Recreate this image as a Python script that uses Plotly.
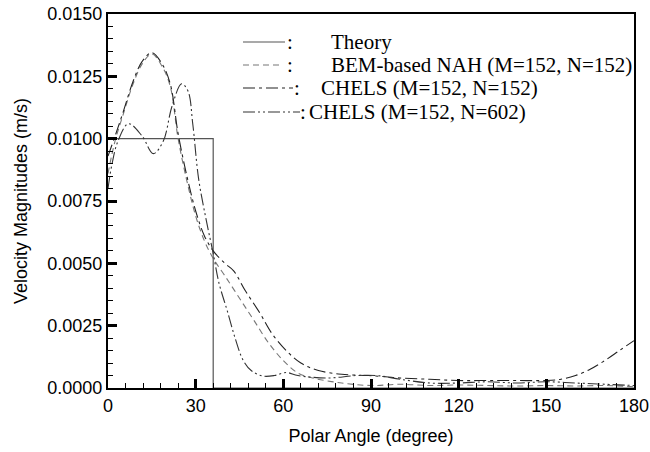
import plotly.graph_objects as go

# Theory: step profile
theory_x = [0, 36, 36, 180]
theory_y = [0.0100, 0.0100, 0.0, 0.0]

# BEM-based NAH (M=152, N=152)
bem_x = [0, 2.4, 5, 8.6, 11.7, 15, 18.5, 21.3, 24, 27, 30, 33, 36, 40, 45, 50,
         55, 60, 65, 70, 80, 90, 100, 110, 120, 130, 140, 150, 160, 170, 180]
bem_y = [0.0086, 0.0099, 0.0109, 0.0122, 0.0130, 0.0134, 0.0129, 0.0121, 0.0100,
         0.0083, 0.0069, 0.0059, 0.0052, 0.0045, 0.0036, 0.0027, 0.0018, 0.0011,
         0.0006, 0.0004, 0.0002, 0.0001, 0.00015, 0.0001, 0.00012, 0.0001,
         0.00008, 0.0001, 0.00008, 0.0001, 0.00005]

# CHELS (M=152, N=152)
chels152_x = [0, 2.4, 5, 8.6, 11.7, 15, 18.5, 21.3, 24, 27, 30, 33, 36, 40, 43,
              47, 52, 56, 61, 66, 72, 80, 89, 95, 100, 110, 120, 130, 140, 150,
              155, 160, 165, 170, 175, 180]
chels152_y = [0.0093, 0.0101, 0.0110, 0.0123, 0.0131, 0.01345, 0.0130, 0.0122,
              0.0102, 0.0085, 0.0071, 0.0061, 0.0055, 0.0050, 0.0047, 0.0039,
              0.0030, 0.0022, 0.0015, 0.0010, 0.0007, 0.00055, 0.0005, 0.00045,
              0.0004, 0.00035, 0.0003, 0.0003, 0.0003, 0.0003, 0.00035, 0.0005,
              0.00075, 0.0011, 0.0015, 0.0019]

# CHELS (M=152, N=602)
chels602_x = [0, 1.4, 3.4, 7, 11.7, 15.5, 18.9, 21.9, 25.2, 27.4, 29, 31, 33.5,
              36, 38, 40.8, 43.5, 46.3, 49, 53, 57, 61, 65, 75, 85, 92, 100, 110,
              120, 130, 140, 150, 160, 170, 180]
chels602_y = [0.0080, 0.0090, 0.0099, 0.0106, 0.0101, 0.0094, 0.0099, 0.0113,
              0.0122, 0.0119, 0.0106, 0.0084, 0.0068, 0.0054, 0.0042, 0.0031,
              0.0020, 0.0011, 0.0007, 0.00048, 0.0005, 0.00062, 0.0005, 0.0004,
              0.0005, 0.0005, 0.00035, 0.0002, 0.0002, 0.00025, 0.0002, 0.00025,
              0.0002, 0.00015, 0.0001]

series_names = [
    "Theory",
    "BEM-based NAH (M=152, N=152)",
    "CHELS (M=152, N=152)",
    "CHELS (M=152, N=602)",
]

W, H = 650, 452
ML, MR, MT, MB = 108, 16, 14, 64
PW, PH = W - ML - MR, H - MT - MB


def px(x):
    return (x - ML) / PW


def py(y):
    return (H - MB - y) / PH


styles = [
    dict(color="#555555", width=1.2),
    dict(color="#777777", width=1.1, dash="6px,4px"),
    dict(color="#222222", width=1.1, dash="12px,4px,3px,4px"),
    dict(color="#333333", width=1.1, dash="12px,3px,2px,3px,2px,3px"),
]

fig = go.Figure()
for name, xs, ys, st in zip(
    series_names,
    [theory_x, bem_x, chels152_x, chels602_x],
    [theory_y, bem_y, chels152_y, chels602_y],
    styles,
):
    fig.add_trace(go.Scatter(
        x=xs, y=ys, mode="lines", name=name,
        line_shape="linear" if name == "Theory" else "spline",
        line=st, showlegend=False,
    ))

# hand-drawn legend (line sample, colon, label) in the Tecplot style
leg_rows_y = [42, 65, 88, 112]
leg_line_end = [285, 283, 293, 300]
leg_colon_x = [290, 290, 297, 303]
leg_text_x = [329, 329, 319, 307]
leg_font = dict(family="Liberation Serif, Times New Roman", size=21, color="black")
for i, name in enumerate(series_names):
    yy = py(leg_rows_y[i])
    fig.add_shape(type="line", xref="paper", yref="paper",
                  x0=px(243), x1=px(leg_line_end[i]), y0=yy, y1=yy,
                  line=styles[i])
    fig.add_annotation(xref="paper", yref="paper", x=px(leg_colon_x[i]), y=yy,
                       text=":", showarrow=False, xanchor="center", yanchor="middle",
                       font=leg_font)
    fig.add_annotation(xref="paper", yref="paper", x=px(leg_text_x[i]), y=yy,
                       text=name, showarrow=False, xanchor="left", yanchor="middle",
                       font=leg_font)

axis_font = dict(family="Liberation Sans, Arial", size=18, color="black")

fig.update_layout(
    width=W, height=H,
    margin=dict(l=ML, r=MR, t=MT, b=MB),
    paper_bgcolor="white", plot_bgcolor="white",
    showlegend=False,
)

fig.update_xaxes(
    range=[0, 180], tickvals=[0, 30, 60, 90, 120, 150, 180],
    ticks="inside", ticklen=9, tickwidth=2.5, tickcolor="black",
    minor=dict(dtick=6, ticks="inside", ticklen=5, tickwidth=1, tickcolor="black"),
    showline=True, linewidth=2, linecolor="black", mirror=True,
    showgrid=False, zeroline=False, automargin=False,
    tickfont=axis_font,
    title=dict(text="Polar Angle (degree)", font=axis_font),
)
fig.update_yaxes(
    range=[0, 0.015], tickvals=[0, 0.0025, 0.005, 0.0075, 0.01, 0.0125, 0.015],
    tickformat=".4f",
    ticks="inside", ticklen=9, tickwidth=2.5, tickcolor="black",
    minor=dict(dtick=0.0005, ticks="inside", ticklen=5, tickwidth=1, tickcolor="black"),
    showline=True, linewidth=2, linecolor="black", mirror=True,
    showgrid=False, zeroline=False, automargin=False,
    tickfont=axis_font,
    title=dict(text="Velocity Magnitudes (m/s)", font=axis_font),
)

fig.write_html(
    "out.html",
    config={"displayModeBar": False},
    post_script="document.body.style.margin='0px';document.body.style.overflow='hidden';",
)
